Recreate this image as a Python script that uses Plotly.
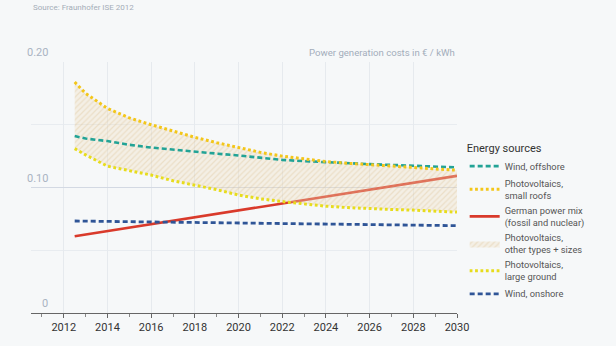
import plotly.graph_objects as go

# ---- data (€ / kWh) ----
years = [2012.5, 2013, 2014, 2015, 2016, 2017, 2018, 2019, 2020,
         2021, 2022, 2023, 2024, 2025, 2026, 2027, 2028, 2029, 2030]
pv_small_roofs = [0.184, 0.175, 0.163, 0.1555, 0.150, 0.145, 0.140, 0.1357, 0.1318,
                  0.128, 0.125, 0.1228, 0.1207, 0.1193, 0.118, 0.117, 0.116, 0.1148, 0.1138]
pv_large_ground = [0.131, 0.126, 0.117, 0.1133, 0.1099, 0.1054, 0.102, 0.0983, 0.094,
                   0.091, 0.0888, 0.0868, 0.0851, 0.084, 0.083, 0.0825, 0.082, 0.0812, 0.0804]
wind_offshore = [0.141, 0.139, 0.137, 0.134, 0.1318, 0.130, 0.1286, 0.127, 0.1255,
                 0.1237, 0.122, 0.121, 0.120, 0.1193, 0.1186, 0.118, 0.1172, 0.1166, 0.116]
mix_years = [2012.5, 2020, 2030]
german_mix = [0.0611, 0.0818, 0.1093]
onshore_years = [2012.5, 2020, 2030]
wind_onshore = [0.0733, 0.0717, 0.0696]

y_labels = [(0.20, "0.20"), (0.10, "0.10"), (0.0, "0")]

FONT = "Liberation Sans Narrow, Roboto, Open Sans, sans-serif"
BG = "#f6f8f9"

fig = go.Figure()

fig.add_trace(go.Scatter(
    x=mix_years, y=german_mix, mode="lines",
    name="German power mix<br>(fossil and nuclear)",
    line=dict(color="#d93a2b", width=2.6), legendrank=3))

# hatched band
fig.add_trace(go.Scatter(
    x=years, y=pv_large_ground, mode="lines", line=dict(width=0),
    showlegend=False, hoverinfo="skip"))
fig.add_trace(go.Scatter(
    x=years, y=pv_small_roofs, mode="lines", line=dict(width=0),
    fill="tonexty", fillcolor="rgba(0,0,0,0)",
    fillpattern=dict(shape="/", fgcolor="rgba(205,170,108,0.5)",
                     bgcolor="rgba(240,222,188,0.32)", size=4, solidity=0.3),
    name="Photovoltaics,<br>other types + sizes", legendrank=4))

fig.add_trace(go.Scatter(
    x=years, y=wind_offshore, mode="lines", name="Wind, offshore",
    line=dict(color="#22a396", width=2.6, dash="5px,3px"), legendrank=1))
fig.add_trace(go.Scatter(
    x=onshore_years, y=wind_onshore, mode="lines", name="Wind, onshore",
    line=dict(color="#2f5597", width=2.8, dash="5px,3px"), legendrank=6))
fig.add_trace(go.Scatter(
    x=years, y=pv_small_roofs, mode="lines", name="Photovoltaics,<br>small roofs",
    line=dict(color="#f3c61a", width=3, dash="2.8px,2.6px"), legendrank=2))
fig.add_trace(go.Scatter(
    x=years, y=pv_large_ground, mode="lines", name="Photovoltaics,<br>large ground",
    line=dict(color="#e7dc1c", width=3, dash="2.8px,2.6px"), legendrank=5))

annotations = []
for v, t in y_labels:
    annotations.append(dict(
        x=(50 - 31) / 426, xref="paper", y=v, yref="y",
        xanchor="right", yanchor="bottom", text=t, showarrow=False,
        font=dict(family=FONT, size=11, color="#a9b3c2"), yshift=1))
annotations.append(dict(
    x=1, xref="paper", y=0.2, yref="y", xanchor="right", yanchor="bottom",
    text="Power generation costs in € / kWh", showarrow=False, yshift=2,
    font=dict(family=FONT, size=9.6, color="#a3adbb")))
annotations.append(dict(
    x=0, xref="paper", y=1.243, yref="paper", xanchor="left", yanchor="top",
    text="Source: Fraunhofer ISE 2012", showarrow=False,
    font=dict(family=FONT, size=8, color="#a4adb8")))

fig.update_layout(
    width=616, height=346,
    margin=dict(l=31, r=159, t=62, b=31),
    paper_bgcolor=BG, plot_bgcolor=BG,
    font=dict(family=FONT, color="#444"),
    showlegend=True,
    legend=dict(
        x=1.018, xanchor="left", y=0.70, yanchor="top",
        traceorder="normal",
        bgcolor="rgba(0,0,0,0)",
        font=dict(family=FONT, size=9.3, color="#555"),
        title=dict(text="Energy sources", font=dict(family=FONT, size=11, color="#333")),
        tracegroupgap=0, itemwidth=30),
    annotations=annotations,
    xaxis=dict(
        range=[2010.5, 2030], tick0=2012, dtick=2,
        showgrid=True, gridcolor="#e6eaee", gridwidth=1,
        zeroline=False, showline=True, linecolor="#666", linewidth=1,
        ticks="outside", ticklen=4, tickcolor="#666",
        tickfont=dict(family=FONT, size=11, color="#333"),
        minor=dict(dtick=1, ticks="outside", ticklen=3, tickcolor="#888", showgrid=False),
        fixedrange=True),
    yaxis=dict(
        range=[0, 0.2], tick0=0, dtick=0.1,
        showgrid=True, gridcolor="#d3d9e3", gridwidth=1.3,
        zeroline=False, showticklabels=False, ticks="",
        minor=dict(dtick=0.05, showgrid=True, gridcolor="#e8ecf0", gridwidth=1),
        fixedrange=True),
)

fig.write_html("out.html")
